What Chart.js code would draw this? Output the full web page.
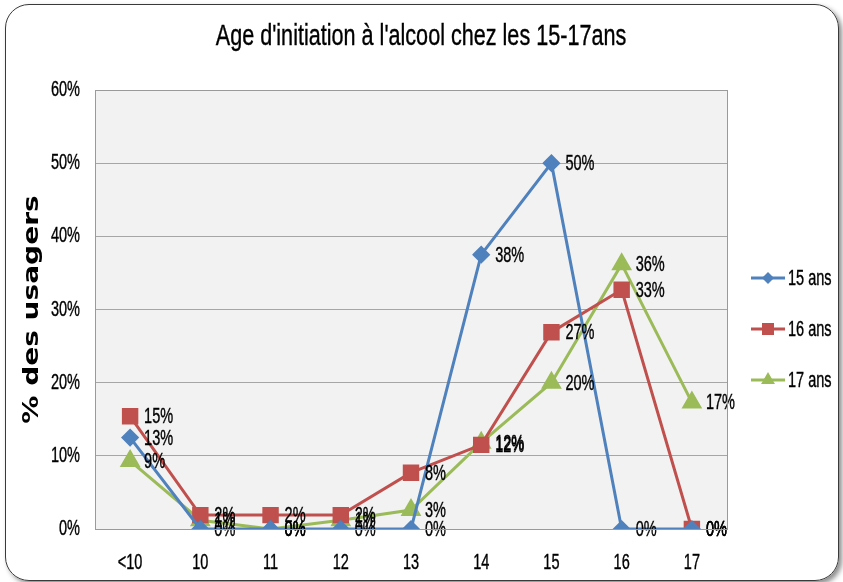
<!DOCTYPE html>
<html lang="fr">
<head>
    <meta charset="UTF-8">
    <title>Age d'initiation à l'alcool chez les 15-17ans</title>
    <script src="https://cdn.jsdelivr.net/npm/chart.js"></script>
    <style>
        html, body { margin: 0; padding: 0; background: #fff; }
        #frame {
            position: absolute; left: 5px; top: 4px; width: 832px; height: 575px;
            border: 1.5px solid #3a3a3a; border-radius: 24px;
            box-shadow: 3px 3px 5px rgba(0,0,0,0.45);
        }
        #wrap { position: absolute; left: 0; top: 0; width: 843px; height: 582px; }
    </style>
</head>
<body>
    <div id="frame"></div>
    <div id="wrap"><canvas id="lineChart" width="843" height="582"></canvas></div>

    <script>
        // categories (age at first drink)
        const ages = ["<10", "10", "11", "12", "13", "14", "15", "16", "17"];
        // % of users, by age group
        const ans15 = [12.5, 0, 0, 0, 0, 37.5, 50, 0, 0];
        const ans16 = [15.4, 1.9, 1.9, 1.9, 7.7, 11.5, 26.9, 32.7, 0];
        const ans17 = [9.3, 1.2, 0, 1.2, 2.6, 11.8, 20.0, 36.2, 17.3];
        const seriesNames = ["15 ans", "16 ans", "17 ans"];
        const chartTitle = "Age d'initiation à l'alcool chez les 15-17ans";
        const yTitle = "% des usagers";

        const FONT = "'Liberation Sans', Arial, sans-serif";
        const SQ = 0.66; // the original text is horizontally condensed

        // condensed text helper
        function squash(ctx, text, x, y, px, align, sx) {
            ctx.save();
            ctx.translate(x, y);
            ctx.scale(sx || SQ, 1);
            ctx.font = px + "px " + FONT;
            ctx.fillStyle = "#000";
            ctx.strokeStyle = "#000";
            ctx.lineWidth = 0.4;
            ctx.textAlign = align;
            ctx.textBaseline = "middle";
            ctx.fillText(text, 0, 0);
            ctx.strokeText(text, 0, 0);
            ctx.restore();
        }

        // plot background, border, title and axis texts
        const frameAndText = {
            id: "frameAndText",
            beforeDraw(chart) {
                const { ctx, chartArea: a } = chart;
                ctx.save();
                ctx.fillStyle = "#f2f2f2";
                ctx.fillRect(a.left, a.top, a.right - a.left, a.bottom - a.top);
                ctx.restore();
            },
            afterDraw(chart) {
                const { ctx, chartArea: a } = chart;
                ctx.save();
                ctx.strokeStyle = "#9a9a9a";
                ctx.lineWidth = 1;
                ctx.strokeRect(a.left + 0.5, a.top + 0.5, a.right - a.left, a.bottom - a.top);
                ctx.restore();

                squash(ctx, chartTitle, 421, 37, 30, "center", 0.72);

                const xs = chart.scales.x, ys = chart.scales.y;
                xs.ticks.forEach((t, i) => {
                    squash(ctx, ages[i], xs.getPixelForTick(i), 563, 22, "center");
                });
                ys.ticks.forEach((t, i) => {
                    squash(ctx, t.value + "%", 80, ys.getPixelForTick(i), 22, "right");
                });

                // rotated y title, condensed in its thickness
                ctx.save();
                ctx.translate(32, (a.top + a.bottom) / 2);
                ctx.rotate(-Math.PI / 2);
                ctx.scale(1, 0.78);
                ctx.font = "bold 28px 'DejaVu Sans', sans-serif";
                ctx.fillStyle = "#000";
                ctx.textAlign = "center";
                ctx.textBaseline = "middle";
                ctx.fillText(yTitle, 0, 0);
                ctx.restore();
            }
        };

        // value labels right of each point
        const valueLabels = {
            id: "valueLabels",
            afterDatasetsDraw(chart) {
                const ctx = chart.ctx;
                chart.data.datasets.forEach((ds, i) => {
                    chart.getDatasetMeta(i).data.forEach((pt, j) => {
                        squash(ctx, Math.round(ds.data[j]) + "%", pt.x + 14, pt.y + 1, 22, "left");
                    });
                });
            }
        };

        // legend on the right: line + marker + name
        const sideLegend = {
            id: "sideLegend",
            afterDraw(chart) {
                const ctx = chart.ctx;
                const x0 = 751, x1 = 785, ys = [278, 329, 380];
                chart.data.datasets.forEach((ds, i) => {
                    const y = ys[i];
                    ctx.save();
                    ctx.strokeStyle = ds.borderColor;
                    ctx.lineWidth = 3;
                    ctx.beginPath();
                    ctx.moveTo(x0, y);
                    ctx.lineTo(x1, y);
                    ctx.stroke();
                    ctx.fillStyle = ds.borderColor;
                    Chart.helpers.drawPoint(ctx, {
                        pointStyle: ds.pointStyle, radius: ds.pointRadius - 1, rotation: 0, borderWidth: 0
                    }, (x0 + x1) / 2, y);
                    ctx.restore();
                    squash(ctx, ds.label, x1 + 3, y + 1, 22, "left");
                });
            }
        };

        function makeSeries(label, data, color, style, radius) {
            return {
                label: label, data: data,
                borderColor: color, backgroundColor: color,
                pointBackgroundColor: color, pointBorderColor: color,
                pointStyle: style, pointRadius: radius, pointHoverRadius: radius,
                borderWidth: 3, tension: 0
            };
        }

        new Chart(document.getElementById("lineChart"), {
            type: "line",
            data: {
                labels: ages,
                datasets: [
                    makeSeries(seriesNames[0], ans15, "#4f81bd", "rectRot", 7),
                    makeSeries(seriesNames[1], ans16, "#c0504d", "rect", 9.5),
                    makeSeries(seriesNames[2], ans17, "#9bbb59", "triangle", 9)
                ]
            },
            options: {
                responsive: false,
                animation: false,
                layout: { padding: { left: 16, right: 116, top: 90, bottom: 0 } },
                plugins: {
                    legend: { display: false },
                    tooltip: { enabled: false },
                    title: { display: false }
                },
                scales: {
                    x: {
                        offset: true,
                        grid: { display: false, drawTicks: false },
                        border: { display: false },
                        ticks: { display: false },
                        afterFit(scale) { scale.height = 53; }
                    },
                    y: {
                        min: 0, max: 60,
                        grid: { color: "#a6a6a6", drawTicks: false, lineWidth: 1 },
                        border: { display: false },
                        ticks: { display: false, stepSize: 10 },
                        afterFit(scale) { scale.width = 79; }
                    }
                }
            },
            plugins: [frameAndText, valueLabels, sideLegend]
        });
    </script>
</body>
</html>
